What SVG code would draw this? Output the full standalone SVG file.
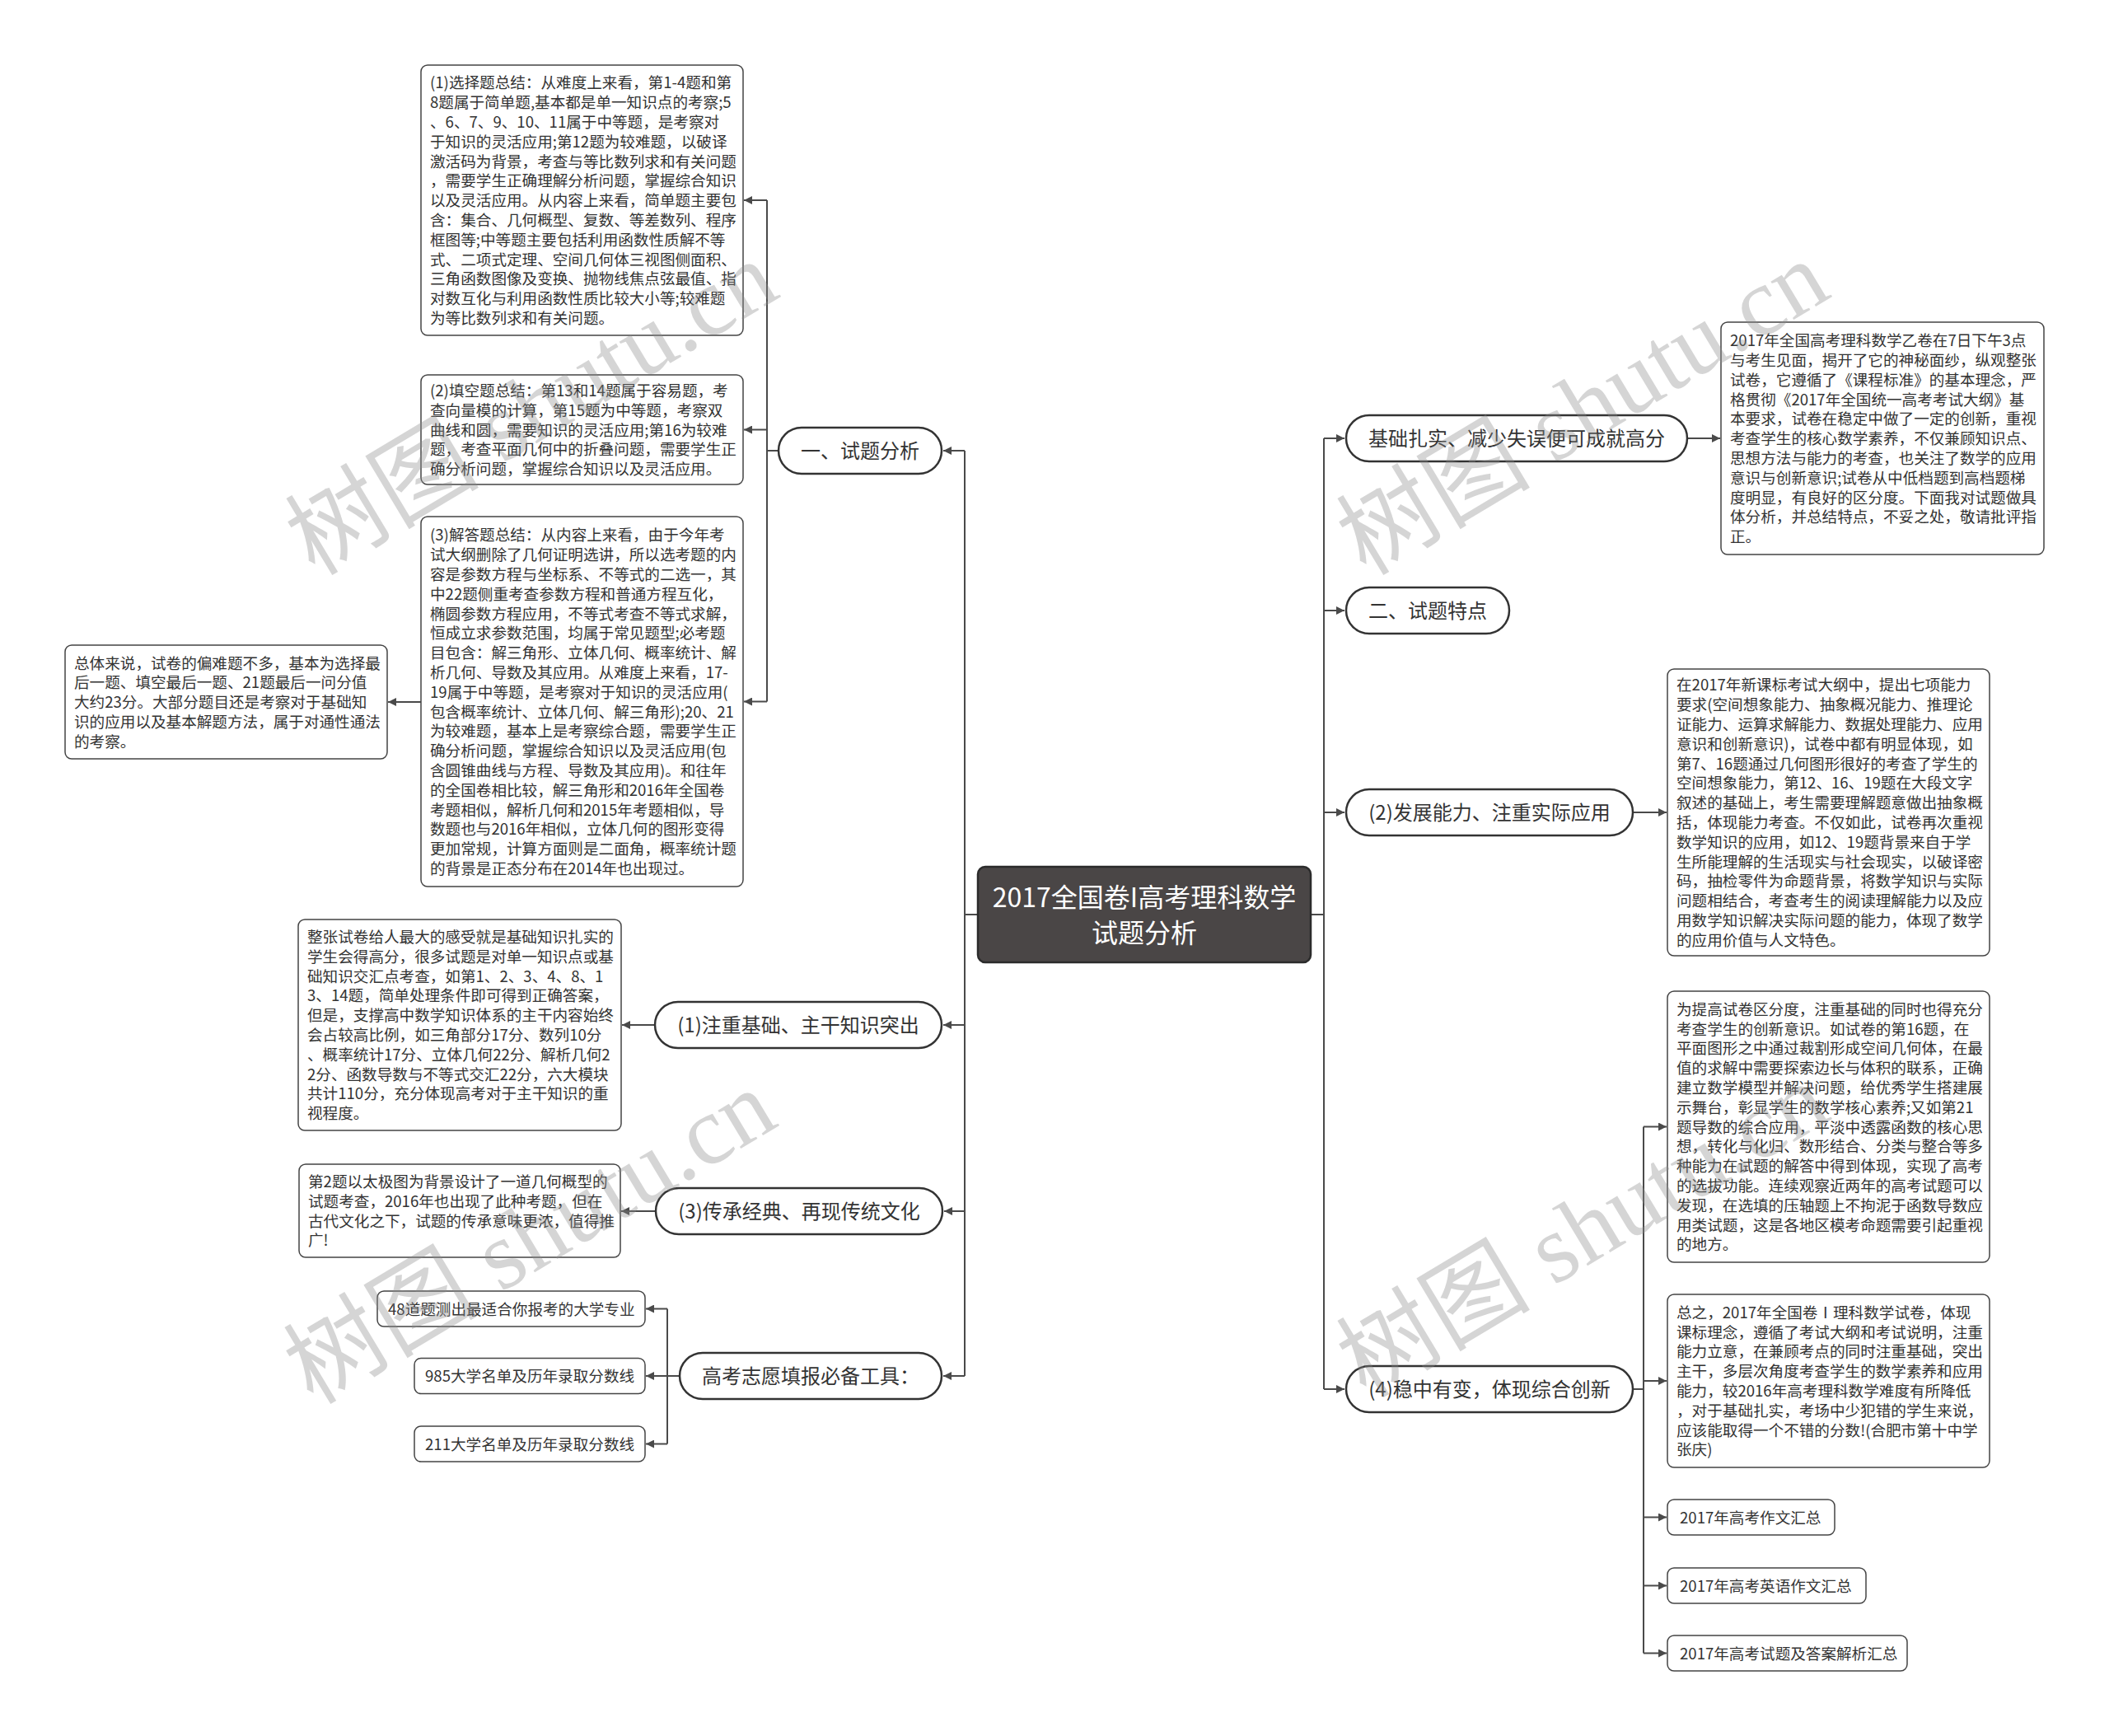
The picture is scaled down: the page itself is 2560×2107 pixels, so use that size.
<svg xmlns="http://www.w3.org/2000/svg" width="2560" height="2107" viewBox="0 0 2560 2107">
<defs>
<style>
.t{font-family:"Noto Sans CJK SC","Noto Sans",sans-serif;font-size:18.6px;fill:#333}
.p{font-family:"Noto Sans CJK SC","Noto Sans",sans-serif;font-size:24px;fill:#333;text-anchor:middle}
.c{font-family:"Noto Sans CJK SC","Noto Sans",sans-serif;font-size:32px;fill:#fff;text-anchor:middle}
.box{fill:#fff;stroke:#444;stroke-width:1.5}
.pill{fill:#fff;stroke:#333;stroke-width:2.5}
.ln{fill:none;stroke:#4a4a4a;stroke-width:2}
.ar{fill:none;stroke:#4a4a4a;stroke-width:2;marker-end:url(#ah)}
.wm{font-family:"Liberation Serif","Noto Sans CJK SC",serif;font-size:118px;fill:#8a8a8a;fill-opacity:0.36}
</style>
<marker id="ah" markerUnits="userSpaceOnUse" markerWidth="12" markerHeight="10" refX="10" refY="5" orient="auto">
<path d="M0,0 L10,5 L0,10 z" fill="#4a4a4a"/>
</marker>
</defs>
<rect width="2560" height="2107" fill="#fff"/>

<g id="connectors">
<path class="ln" d="M1187,1110 H1171 M1171,547 V1670"/>
<path class="ar" d="M1171,547 H1145"/>
<path class="ar" d="M1171,1244 H1145"/>
<path class="ar" d="M1171,1470 H1146"/>
<path class="ar" d="M1171,1670 H1145"/>
<path class="ln" d="M945,547 H931 M931,243 V851.5"/>
<path class="ar" d="M931,243 H903"/>
<path class="ar" d="M931,521.5 H903"/>
<path class="ar" d="M931,851.5 H903"/>
<path class="ar" d="M511,852 H471"/>
<path class="ar" d="M795,1244 H755"/>
<path class="ar" d="M796,1470 H754"/>
<path class="ln" d="M825,1670 H810 M810,1588.5 V1752.5"/>
<path class="ar" d="M810,1588.5 H784"/>
<path class="ar" d="M810,1670 H784"/>
<path class="ar" d="M810,1752.5 H784"/>
<path class="ln" d="M1591,1110 H1607 M1607,532 V1686"/>
<path class="ar" d="M1607,532 H1632"/>
<path class="ar" d="M1607,741 H1632"/>
<path class="ar" d="M1607,986 H1632"/>
<path class="ar" d="M1607,1686 H1632"/>
<path class="ar" d="M2048,532 H2088"/>
<path class="ar" d="M1982,986 H2023"/>
<path class="ln" d="M1982,1686 H1995 M1995,1367.5 V2006.5"/>
<path class="ar" d="M1995,1367.5 H2023"/>
<path class="ar" d="M1995,1676 H2023"/>
<path class="ar" d="M1995,1841.5 H2023"/>
<path class="ar" d="M1995,1924.5 H2023"/>
<path class="ar" d="M1995,2006.5 H2023"/>
</g>

<g id="root">
<rect x="1187" y="1052" width="404" height="116" rx="9" fill="#4a4646" stroke="#2b2b2b" stroke-width="2.5"/>
<text class="c" x="1389" y="1101">2017全国卷I高考理科数学</text>
<text class="c" x="1389" y="1144">试题分析</text>
</g>

<g id="n-analysis">
<rect class="pill" x="945" y="519" width="198" height="56" rx="28"/>
<text class="p" x="1044" y="556.1">一、试题分析</text>
</g>

<g id="n-choice">
<rect class="box" x="511" y="79" width="391" height="328" rx="8"/>
<text class="t">
<tspan x="522" y="107.3">(1)选择题总结：从难度上来看，第1-4题和第</tspan>
<tspan x="522" y="131.1">8题属于简单题,基本都是单一知识点的考察;5</tspan>
<tspan x="522" y="154.9">、6、7、9、10、11属于中等题，是考察对</tspan>
<tspan x="522" y="178.7">于知识的灵活应用;第12题为较难题，以破译</tspan>
<tspan x="522" y="202.5">激活码为背景，考查与等比数列求和有关问题</tspan>
<tspan x="522" y="226.3">，需要学生正确理解分析问题，掌握综合知识</tspan>
<tspan x="522" y="250.1">以及灵活应用。从内容上来看，简单题主要包</tspan>
<tspan x="522" y="273.9">含：集合、几何概型、复数、等差数列、程序</tspan>
<tspan x="522" y="297.7">框图等;中等题主要包括利用函数性质解不等</tspan>
<tspan x="522" y="321.5">式、二项式定理、空间几何体三视图侧面积、</tspan>
<tspan x="522" y="345.3">三角函数图像及变换、抛物线焦点弦最值、指</tspan>
<tspan x="522" y="369.1">对数互化与利用函数性质比较大小等;较难题</tspan>
<tspan x="522" y="392.9">为等比数列求和有关问题。</tspan>
</text>
</g>

<g id="n-fill">
<rect class="box" x="511" y="455" width="391" height="133" rx="8"/>
<text class="t">
<tspan x="522" y="481">(2)填空题总结：第13和14题属于容易题，考</tspan>
<tspan x="522" y="504.8">查向量模的计算，第15题为中等题，考察双</tspan>
<tspan x="522" y="528.6">曲线和圆，需要知识的灵活应用;第16为较难</tspan>
<tspan x="522" y="552.4">题，考查平面几何中的折叠问题，需要学生正</tspan>
<tspan x="522" y="576.2">确分析问题，掌握综合知识以及灵活应用。</tspan>
</text>
</g>

<g id="n-answer">
<rect class="box" x="511" y="627" width="391" height="449" rx="8"/>
<text class="t">
<tspan x="522" y="656.3">(3)解答题总结：从内容上来看，由于今年考</tspan>
<tspan x="522" y="680.1">试大纲删除了几何证明选讲，所以选考题的内</tspan>
<tspan x="522" y="703.9">容是参数方程与坐标系、不等式的二选一，其</tspan>
<tspan x="522" y="727.7">中22题侧重考查参数方程和普通方程互化，</tspan>
<tspan x="522" y="751.5">椭圆参数方程应用，不等式考查不等式求解，</tspan>
<tspan x="522" y="775.3">恒成立求参数范围，均属于常见题型;必考题</tspan>
<tspan x="522" y="799.1">目包含：解三角形、立体几何、概率统计、解</tspan>
<tspan x="522" y="822.9">析几何、导数及其应用。从难度上来看，17-</tspan>
<tspan x="522" y="846.7">19属于中等题，是考察对于知识的灵活应用(</tspan>
<tspan x="522" y="870.5">包含概率统计、立体几何、解三角形);20、21</tspan>
<tspan x="522" y="894.3">为较难题，基本上是考察综合题，需要学生正</tspan>
<tspan x="522" y="918.1">确分析问题，掌握综合知识以及灵活应用(包</tspan>
<tspan x="522" y="941.9">含圆锥曲线与方程、导数及其应用)。和往年</tspan>
<tspan x="522" y="965.7">的全国卷相比较，解三角形和2016年全国卷</tspan>
<tspan x="522" y="989.5">考题相似，解析几何和2015年考题相似，导</tspan>
<tspan x="522" y="1013.3">数题也与2016年相似，立体几何的图形变得</tspan>
<tspan x="522" y="1037.1">更加常规，计算方面则是二面角，概率统计题</tspan>
<tspan x="522" y="1060.9">的背景是正态分布在2014年也出现过。</tspan>
</text>
</g>

<g id="n-summary">
<rect class="box" x="79" y="783" width="391" height="138" rx="8"/>
<text class="t">
<tspan x="90" y="811.5">总体来说，试卷的偏难题不多，基本为选择最</tspan>
<tspan x="90" y="835.3">后一题、填空最后一题、21题最后一问分值</tspan>
<tspan x="90" y="859.1">大约23分。大部分题目还是考察对于基础知</tspan>
<tspan x="90" y="882.9">识的应用以及基本解题方法，属于对通性通法</tspan>
<tspan x="90" y="906.7">的考察。</tspan>
</text>
</g>

<g id="n-basic">
<rect class="pill" x="795" y="1216" width="348" height="56" rx="28"/>
<text class="p" x="969" y="1253.1">(1)注重基础、主干知识突出</text>
</g>
<g id="n-basic-detail">
<rect class="box" x="362" y="1116" width="392" height="256" rx="8"/>
<text class="t">
<tspan x="373" y="1144">整张试卷给人最大的感受就是基础知识扎实的</tspan>
<tspan x="373" y="1167.8">学生会得高分，很多试题是对单一知识点或基</tspan>
<tspan x="373" y="1191.6">础知识交汇点考查，如第1、2、3、4、8、1</tspan>
<tspan x="373" y="1215.4">3、14题，简单处理条件即可得到正确答案，</tspan>
<tspan x="373" y="1239.2">但是，支撑高中数学知识体系的主干内容始终</tspan>
<tspan x="373" y="1263">会占较高比例，如三角部分17分、数列10分</tspan>
<tspan x="373" y="1286.8">、概率统计17分、立体几何22分、解析几何2</tspan>
<tspan x="373" y="1310.6">2分、函数导数与不等式交汇22分，六大模块</tspan>
<tspan x="373" y="1334.4">共计110分，充分体现高考对于主干知识的重</tspan>
<tspan x="373" y="1358.2">视程度。</tspan>
</text>
</g>

<g id="n-culture">
<rect class="pill" x="796" y="1442" width="348" height="56" rx="28"/>
<text class="p" x="970" y="1479.1">(3)传承经典、再现传统文化</text>
</g>
<g id="n-culture-detail">
<rect class="box" x="363" y="1413" width="390" height="113" rx="8"/>
<text class="t">
<tspan x="374" y="1440.9">第2题以太极图为背景设计了一道几何概型的</tspan>
<tspan x="374" y="1464.7">试题考查，2016年也出现了此种考题，但在</tspan>
<tspan x="374" y="1488.5">古代文化之下，试题的传承意味更浓，值得推</tspan>
<tspan x="374" y="1512.3">广!</tspan>
</text>
</g>

<g id="n-tools">
<rect class="pill" x="825" y="1642" width="318" height="56" rx="28"/>
<text class="p" x="984" y="1679.1">高考志愿填报必备工具：</text>
</g>
<g id="n-tool1">
<rect class="box" x="458" y="1567" width="325" height="43" rx="8"/>
<text class="t" x="471" y="1595.6">48道题测出最适合你报考的大学专业</text>
</g>
<g id="n-tool2">
<rect class="box" x="503" y="1648.5" width="280" height="43" rx="8"/>
<text class="t" x="516" y="1677.1">985大学名单及历年录取分数线</text>
</g>
<g id="n-tool3">
<rect class="box" x="503" y="1731" width="280" height="43" rx="8"/>
<text class="t" x="516" y="1759.6">211大学名单及历年录取分数线</text>
</g>

<g id="n-solid">
<rect class="pill" x="1634" y="504" width="414" height="56" rx="28"/>
<text class="p" x="1841" y="541.1">基础扎实、减少失误便可成就高分</text>
</g>
<g id="n-intro">
<rect class="box" x="2089" y="391" width="392" height="282" rx="8"/>
<text class="t">
<tspan x="2100" y="420.1">2017年全国高考理科数学乙卷在7日下午3点</tspan>
<tspan x="2100" y="443.9">与考生见面，揭开了它的神秘面纱，纵观整张</tspan>
<tspan x="2100" y="467.7">试卷，它遵循了《课程标准》的基本理念，严</tspan>
<tspan x="2100" y="491.5">格贯彻《2017年全国统一高考考试大纲》基</tspan>
<tspan x="2100" y="515.3">本要求，试卷在稳定中做了一定的创新，重视</tspan>
<tspan x="2100" y="539.1">考查学生的核心数学素养，不仅兼顾知识点、</tspan>
<tspan x="2100" y="562.9">思想方法与能力的考查，也关注了数学的应用</tspan>
<tspan x="2100" y="586.7">意识与创新意识;试卷从中低档题到高档题梯</tspan>
<tspan x="2100" y="610.5">度明显，有良好的区分度。下面我对试题做具</tspan>
<tspan x="2100" y="634.3">体分析，并总结特点，不妥之处，敬请批评指</tspan>
<tspan x="2100" y="658.1">正。</tspan>
</text>
</g>

<g id="n-features">
<rect class="pill" x="1634" y="713" width="198" height="56" rx="28"/>
<text class="p" x="1733" y="750.1">二、试题特点</text>
</g>

<g id="n-ability">
<rect class="pill" x="1634" y="958" width="348" height="56" rx="28"/>
<text class="p" x="1808" y="995.1">(2)发展能力、注重实际应用</text>
</g>
<g id="n-ability-detail">
<rect class="box" x="2024" y="812" width="391" height="348" rx="8"/>
<text class="t">
<tspan x="2035" y="838.4">在2017年新课标考试大纲中，提出七项能力</tspan>
<tspan x="2035" y="862.2">要求(空间想象能力、抽象概况能力、推理论</tspan>
<tspan x="2035" y="886">证能力、运算求解能力、数据处理能力、应用</tspan>
<tspan x="2035" y="909.8">意识和创新意识)，试卷中都有明显体现，如</tspan>
<tspan x="2035" y="933.6">第7、16题通过几何图形很好的考查了学生的</tspan>
<tspan x="2035" y="957.4">空间想象能力，第12、16、19题在大段文字</tspan>
<tspan x="2035" y="981.2">叙述的基础上，考生需要理解题意做出抽象概</tspan>
<tspan x="2035" y="1005">括，体现能力考查。不仅如此，试卷再次重视</tspan>
<tspan x="2035" y="1028.8">数学知识的应用，如12、19题背景来自于学</tspan>
<tspan x="2035" y="1052.6">生所能理解的生活现实与社会现实，以破译密</tspan>
<tspan x="2035" y="1076.4">码，抽检零件为命题背景，将数学知识与实际</tspan>
<tspan x="2035" y="1100.2">问题相结合，考查考生的阅读理解能力以及应</tspan>
<tspan x="2035" y="1124">用数学知识解决实际问题的能力，体现了数学</tspan>
<tspan x="2035" y="1147.8">的应用价值与人文特色。</tspan>
</text>
</g>

<g id="n-stable">
<rect class="pill" x="1634" y="1658" width="348" height="56" rx="28"/>
<text class="p" x="1808" y="1695.1">(4)稳中有变，体现综合创新</text>
</g>
<g id="n-stable-detail1">
<rect class="box" x="2024" y="1203" width="391" height="329" rx="8"/>
<text class="t">
<tspan x="2035" y="1231.8">为提高试卷区分度，注重基础的同时也得充分</tspan>
<tspan x="2035" y="1255.6">考查学生的创新意识。如试卷的第16题，在</tspan>
<tspan x="2035" y="1279.4">平面图形之中通过裁割形成空间几何体，在最</tspan>
<tspan x="2035" y="1303.2">值的求解中需要探索边长与体积的联系，正确</tspan>
<tspan x="2035" y="1327">建立数学模型并解决问题，给优秀学生搭建展</tspan>
<tspan x="2035" y="1350.8">示舞台，彰显学生的数学核心素养;又如第21</tspan>
<tspan x="2035" y="1374.6">题导数的综合应用，平淡中透露函数的核心思</tspan>
<tspan x="2035" y="1398.4">想，转化与化归、数形结合、分类与整合等多</tspan>
<tspan x="2035" y="1422.2">种能力在试题的解答中得到体现，实现了高考</tspan>
<tspan x="2035" y="1446">的选拔功能。连续观察近两年的高考试题可以</tspan>
<tspan x="2035" y="1469.8">发现，在选填的压轴题上不拘泥于函数导数应</tspan>
<tspan x="2035" y="1493.6">用类试题，这是各地区模考命题需要引起重视</tspan>
<tspan x="2035" y="1517.4">的地方。</tspan>
</text>
</g>
<g id="n-stable-detail2">
<rect class="box" x="2024" y="1571" width="391" height="210" rx="8"/>
<text class="t">
<tspan x="2035" y="1599.8">总之，2017年全国卷Ⅰ理科数学试卷，体现</tspan>
<tspan x="2035" y="1623.6">课标理念，遵循了考试大纲和考试说明，注重</tspan>
<tspan x="2035" y="1647.4">能力立意，在兼顾考点的同时注重基础，突出</tspan>
<tspan x="2035" y="1671.2">主干，多层次角度考查学生的数学素养和应用</tspan>
<tspan x="2035" y="1695">能力，较2016年高考理科数学难度有所降低</tspan>
<tspan x="2035" y="1718.8">，对于基础扎实，考场中少犯错的学生来说，</tspan>
<tspan x="2035" y="1742.6">应该能取得一个不错的分数!(合肥市第十中学</tspan>
<tspan x="2035" y="1766.4">张庆)</tspan>
</text>
</g>
<g id="n-link1">
<rect class="box" x="2024" y="1820" width="203" height="43" rx="8"/>
<text class="t" x="2039" y="1848.6">2017年高考作文汇总</text>
</g>
<g id="n-link2">
<rect class="box" x="2024" y="1903" width="241" height="43" rx="8"/>
<text class="t" x="2039" y="1931.6">2017年高考英语作文汇总</text>
</g>
<g id="n-link3">
<rect class="box" x="2024" y="1985" width="291" height="43" rx="8"/>
<text class="t" x="2039" y="2013.6">2017年高考试题及答案解析汇总</text>
</g>

<g id="watermarks">
<text class="wm" transform="translate(382,700) rotate(-31)">树图 shutu.cn</text>
<text class="wm" transform="translate(1658,700) rotate(-31)">树图 shutu.cn</text>
<text class="wm" transform="translate(380,1706) rotate(-31)">树图 shutu.cn</text>
<text class="wm" transform="translate(1658,1698) rotate(-31)">树图 shutu.cn</text>
</g>
</svg>
